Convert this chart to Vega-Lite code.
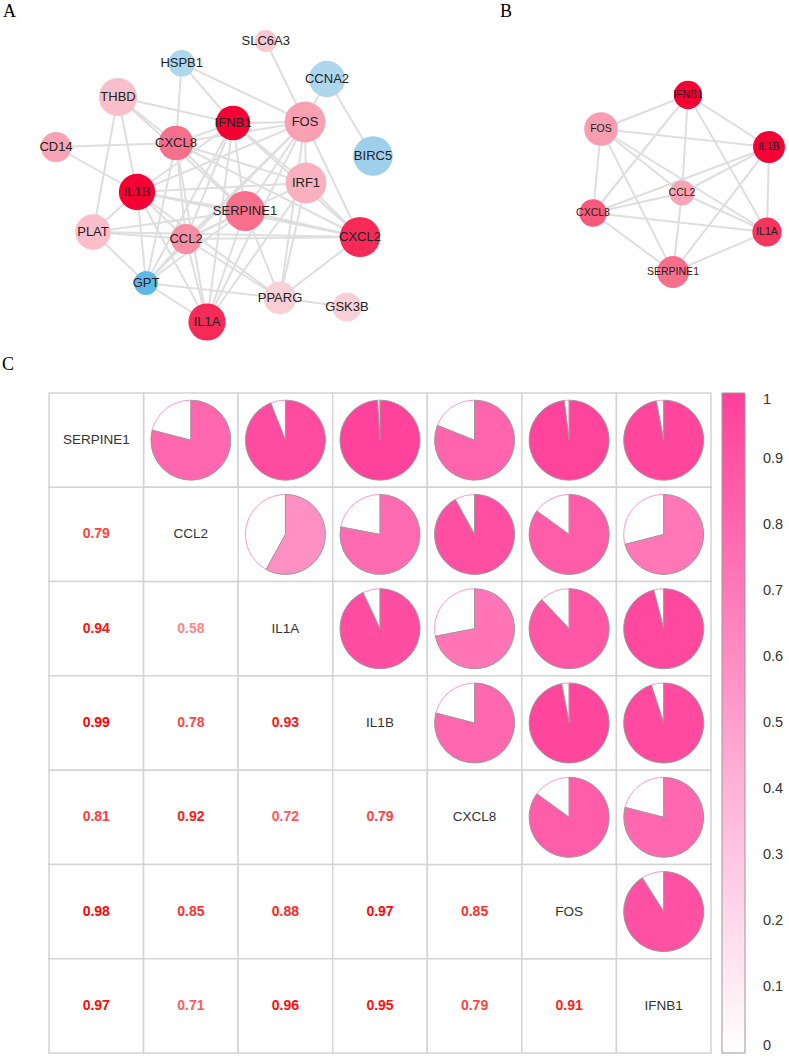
{
  "$schema": "https://vega.github.io/schema/vega-lite/v6.json",
  "padding": {"top": 3, "left": 0, "right": 0, "bottom": 0},
  "spacing": 0,
  "background": "white",
  "config": {"view": {"stroke": null}, "font": "Liberation Sans"},
  "resolve": {"scale": {"color": "independent", "fill": "independent", "size": "independent"}},
  "datasets": {
    "nodesA": [
      {"id": "SLC6A3", "x": 265.7, "y": 41, "w": 12.5, "fc": 1.2},
      {"id": "HSPB1", "x": 181.7, "y": 63.3, "w": 15, "fc": -1.1},
      {"id": "CCNA2", "x": 327, "y": 79, "w": 20.5, "fc": -1.1},
      {"id": "THBD", "x": 118, "y": 97, "w": 21.5, "fc": 1.38},
      {"id": "IFNB1", "x": 233, "y": 123, "w": 19.5, "fc": 5},
      {"id": "FOS", "x": 305, "y": 122, "w": 23, "fc": 1.96},
      {"id": "CD14", "x": 56, "y": 147, "w": 17, "fc": 1.9},
      {"id": "CXCL8", "x": 176, "y": 143, "w": 19.5, "fc": 2.9},
      {"id": "BIRC5", "x": 373, "y": 156, "w": 22.3, "fc": -1.4},
      {"id": "IRF1", "x": 306, "y": 183, "w": 23, "fc": 1.66},
      {"id": "IL1B", "x": 137, "y": 192, "w": 20.5, "fc": 5},
      {"id": "SERPINE1", "x": 245, "y": 211, "w": 22.5, "fc": 2.9},
      {"id": "PLAT", "x": 93, "y": 232, "w": 20, "fc": 1.38},
      {"id": "CCL2", "x": 186, "y": 239, "w": 17, "fc": 2.3},
      {"id": "CXCL2", "x": 360, "y": 237, "w": 22.7, "fc": 4.2},
      {"id": "GPT", "x": 146, "y": 283, "w": 13.5, "fc": -2.6},
      {"id": "PPARG", "x": 280, "y": 298, "w": 18.5, "fc": 1.05},
      {"id": "GSK3B", "x": 347, "y": 307, "w": 16.5, "fc": 1.05},
      {"id": "IL1A", "x": 207, "y": 322, "w": 21, "fc": 4.2}
    ],
    "edgesA": [
      {"s": "SLC6A3", "t": "FOS"}, {"s": "HSPB1", "t": "CXCL8"}, {"s": "HSPB1", "t": "FOS"}, {"s": "HSPB1", "t": "IFNB1"},
      {"s": "CCNA2", "t": "FOS"}, {"s": "CCNA2", "t": "BIRC5"}, {"s": "THBD", "t": "CXCL8"}, {"s": "THBD", "t": "IL1B"},
      {"s": "THBD", "t": "PLAT"}, {"s": "THBD", "t": "SERPINE1"}, {"s": "THBD", "t": "IFNB1"}, {"s": "CD14", "t": "CXCL8"},
      {"s": "CD14", "t": "IL1B"}, {"s": "IFNB1", "t": "FOS"}, {"s": "IFNB1", "t": "IRF1"}, {"s": "IFNB1", "t": "CXCL8"},
      {"s": "IFNB1", "t": "IL1B"}, {"s": "IFNB1", "t": "CCL2"}, {"s": "IFNB1", "t": "IL1A"}, {"s": "IFNB1", "t": "GPT"},
      {"s": "IFNB1", "t": "CXCL2"}, {"s": "IFNB1", "t": "SERPINE1"}, {"s": "FOS", "t": "IRF1"}, {"s": "FOS", "t": "CXCL2"},
      {"s": "FOS", "t": "IL1B"}, {"s": "FOS", "t": "CCL2"}, {"s": "FOS", "t": "IL1A"}, {"s": "FOS", "t": "GPT"},
      {"s": "FOS", "t": "PPARG"}, {"s": "FOS", "t": "SERPINE1"}, {"s": "FOS", "t": "CXCL8"}, {"s": "IRF1", "t": "IL1B"},
      {"s": "IRF1", "t": "CCL2"}, {"s": "IRF1", "t": "IL1A"}, {"s": "IRF1", "t": "PPARG"}, {"s": "IRF1", "t": "CXCL8"},
      {"s": "IL1B", "t": "SERPINE1"}, {"s": "IL1B", "t": "PLAT"}, {"s": "IL1B", "t": "CCL2"}, {"s": "IL1B", "t": "GPT"},
      {"s": "IL1B", "t": "IL1A"}, {"s": "IL1B", "t": "CXCL2"}, {"s": "IL1B", "t": "PPARG"}, {"s": "SERPINE1", "t": "PLAT"},
      {"s": "SERPINE1", "t": "CCL2"}, {"s": "SERPINE1", "t": "IL1A"}, {"s": "SERPINE1", "t": "PPARG"}, {"s": "SERPINE1", "t": "CXCL2"},
      {"s": "SERPINE1", "t": "GPT"}, {"s": "PLAT", "t": "CXCL2"}, {"s": "PLAT", "t": "GPT"}, {"s": "PLAT", "t": "CCL2"},
      {"s": "CCL2", "t": "GPT"}, {"s": "CCL2", "t": "IL1A"}, {"s": "CCL2", "t": "CXCL2"}, {"s": "CCL2", "t": "PPARG"},
      {"s": "CXCL2", "t": "IRF1"}, {"s": "CXCL2", "t": "PPARG"}, {"s": "GPT", "t": "PPARG"}, {"s": "GPT", "t": "IL1A"},
      {"s": "PPARG", "t": "GSK3B"}, {"s": "IL1A", "t": "CXCL8"}, {"s": "CXCL8", "t": "CCL2"}, {"s": "CXCL8", "t": "GPT"},
      {"s": "CXCL8", "t": "CXCL2"}, {"s": "CXCL8", "t": "SERPINE1"}
    ],
    "nodesB": [
      {"id": "IFNB1", "x": 688, "y": 95, "w": 16, "fc": 5},
      {"id": "FOS", "x": 601, "y": 129, "w": 19, "fc": 2.0},
      {"id": "IL1B", "x": 769, "y": 147, "w": 18, "fc": 5},
      {"id": "CCL2", "x": 682, "y": 193, "w": 14, "fc": 1.9},
      {"id": "CXCL8", "x": 593, "y": 213, "w": 15.5, "fc": 3.3},
      {"id": "IL1A", "x": 767, "y": 232, "w": 16.5, "fc": 4.0},
      {"id": "SERPINE1", "x": 673, "y": 272, "w": 18, "fc": 2.9}
    ],
    "edgesB": [
      {"s": "IFNB1", "t": "FOS"}, {"s": "IFNB1", "t": "IL1B"}, {"s": "IFNB1", "t": "CCL2"}, {"s": "IFNB1", "t": "CXCL8"},
      {"s": "IFNB1", "t": "IL1A"}, {"s": "FOS", "t": "IL1B"}, {"s": "FOS", "t": "CCL2"}, {"s": "FOS", "t": "CXCL8"},
      {"s": "FOS", "t": "SERPINE1"}, {"s": "FOS", "t": "IL1A"}, {"s": "IL1B", "t": "CCL2"}, {"s": "IL1B", "t": "CXCL8"},
      {"s": "IL1B", "t": "IL1A"}, {"s": "IL1B", "t": "SERPINE1"}, {"s": "CCL2", "t": "CXCL8"}, {"s": "CCL2", "t": "IL1A"},
      {"s": "CCL2", "t": "SERPINE1"}, {"s": "CXCL8", "t": "IL1A"}, {"s": "CXCL8", "t": "SERPINE1"}, {"s": "SERPINE1", "t": "IL1A"}
    ],
    "pairs": [
      {"a": "SERPINE1", "b": "CCL2", "r": 0.79},
      {"a": "SERPINE1", "b": "IL1A", "r": 0.94},
      {"a": "SERPINE1", "b": "IL1B", "r": 0.99},
      {"a": "SERPINE1", "b": "CXCL8", "r": 0.81},
      {"a": "SERPINE1", "b": "FOS", "r": 0.98},
      {"a": "SERPINE1", "b": "IFNB1", "r": 0.97},
      {"a": "CCL2", "b": "IL1A", "r": 0.58},
      {"a": "CCL2", "b": "IL1B", "r": 0.78},
      {"a": "CCL2", "b": "CXCL8", "r": 0.92},
      {"a": "CCL2", "b": "FOS", "r": 0.85},
      {"a": "CCL2", "b": "IFNB1", "r": 0.71},
      {"a": "IL1A", "b": "IL1B", "r": 0.93},
      {"a": "IL1A", "b": "CXCL8", "r": 0.72},
      {"a": "IL1A", "b": "FOS", "r": 0.88},
      {"a": "IL1A", "b": "IFNB1", "r": 0.96},
      {"a": "IL1B", "b": "CXCL8", "r": 0.79},
      {"a": "IL1B", "b": "FOS", "r": 0.97},
      {"a": "IL1B", "b": "IFNB1", "r": 0.95},
      {"a": "CXCL8", "b": "FOS", "r": 0.85},
      {"a": "CXCL8", "b": "IFNB1", "r": 0.79},
      {"a": "FOS", "b": "IFNB1", "r": 0.91}
    ],
    "genes": [
      {"g": "SERPINE1"}, {"g": "CCL2"}, {"g": "IL1A"}, {"g": "IL1B"}, {"g": "CXCL8"}, {"g": "FOS"}, {"g": "IFNB1"}
    ]
  },
  "vconcat": [
    {
      "spacing": 0,
      "hconcat": [
        {
          "title": {"text": "A", "anchor": "start", "frame": "group", "font": "Liberation Serif", "fontSize": 18, "fontWeight": "normal", "color": "#000", "offset": 4, "dx": -46},
          "width": 451,
          "height": 331,
          "layer": [
            {
              "data": {"name": "edgesA"},
              "transform": [
                {"lookup": "s", "from": {"data": {"name": "nodesA"}, "key": "id", "fields": ["x", "y"]}, "as": ["sx", "sy"]},
                {"lookup": "t", "from": {"data": {"name": "nodesA"}, "key": "id", "fields": ["x", "y"]}, "as": ["tx", "ty"]}
              ],
              "mark": {"type": "rule", "stroke": "#dedede", "strokeWidth": 2},
              "encoding": {
                "x": {"field": "sx", "type": "quantitative", "scale": {"domain": [49, 500], "nice": false, "zero": false}, "axis": null},
                "y": {"field": "sy", "type": "quantitative", "scale": {"domain": [25, 356], "nice": false, "zero": false, "reverse": true}, "axis": null},
                "x2": {"field": "tx"},
                "y2": {"field": "ty"}
              }
            },
            {
              "data": {"name": "nodesA"},
              "mark": {"type": "circle", "opacity": 1},
              "encoding": {
                "x": {"field": "x", "type": "quantitative", "axis": null},
                "y": {"field": "y", "type": "quantitative", "axis": null},
                "size": {"field": "w", "type": "quantitative", "scale": {"type": "pow", "exponent": 2, "domain": [0, 23], "range": [0, 1662]}, "legend": null},
                "color": {"field": "fc", "type": "quantitative", "scale": {"domain": [-3, -1, 1, 5], "range": ["#4aaee0", "#b3d9ef", "#fad3da", "#f50035"], "interpolate": "rgb"}, "legend": null}
              }
            },
            {
              "data": {"name": "nodesA"},
              "mark": {"type": "text", "fontSize": 13, "font": "Liberation Sans", "color": "#222222"},
              "encoding": {
                "x": {"field": "x", "type": "quantitative", "axis": null},
                "y": {"field": "y", "type": "quantitative", "axis": null},
                "text": {"field": "id"}
              }
            }
          ]
        },
        {
          "title": {"text": "B", "anchor": "start", "frame": "group", "font": "Liberation Serif", "fontSize": 18, "fontWeight": "normal", "color": "#000", "offset": 4, "dx": 0},
          "width": 289,
          "height": 331,
          "layer": [
            {
              "data": {"name": "edgesB"},
              "transform": [
                {"lookup": "s", "from": {"data": {"name": "nodesB"}, "key": "id", "fields": ["x", "y"]}, "as": ["sx", "sy"]},
                {"lookup": "t", "from": {"data": {"name": "nodesB"}, "key": "id", "fields": ["x", "y"]}, "as": ["tx", "ty"]}
              ],
              "mark": {"type": "rule", "stroke": "#dedede", "strokeWidth": 2},
              "encoding": {
                "x": {"field": "sx", "type": "quantitative", "scale": {"domain": [500, 789], "nice": false, "zero": false}, "axis": null},
                "y": {"field": "sy", "type": "quantitative", "scale": {"domain": [25, 356], "nice": false, "zero": false, "reverse": true}, "axis": null},
                "x2": {"field": "tx"},
                "y2": {"field": "ty"}
              }
            },
            {
              "data": {"name": "nodesB"},
              "mark": {"type": "circle", "opacity": 1},
              "encoding": {
                "x": {"field": "x", "type": "quantitative", "axis": null},
                "y": {"field": "y", "type": "quantitative", "axis": null},
                "size": {"field": "w", "type": "quantitative", "scale": {"type": "pow", "exponent": 2, "domain": [0, 23], "range": [0, 1662]}, "legend": null},
                "color": {"field": "fc", "type": "quantitative", "scale": {"domain": [-3, -1, 1, 5], "range": ["#4aaee0", "#b3d9ef", "#fad3da", "#f50035"], "interpolate": "rgb"}, "legend": null}
              }
            },
            {
              "data": {"name": "nodesB"},
              "mark": {"type": "text", "fontSize": 10.5, "font": "Liberation Sans", "color": "#222222"},
              "encoding": {
                "x": {"field": "x", "type": "quantitative", "axis": null},
                "y": {"field": "y", "type": "quantitative", "axis": null},
                "text": {"field": "id"}
              }
            }
          ]
        }
      ]
    },
    {
      "title": {"text": "C", "anchor": "start", "frame": "bounds", "font": "Liberation Serif", "fontSize": 18, "fontWeight": "normal", "color": "#000", "offset": 18, "dx": 2},
      "width": 662,
      "height": 660,
      "layer": [
        {
          "data": {"name": "pairs"},
          "mark": {"type": "rect", "fill": "white", "stroke": "#d4d4d4", "strokeWidth": 1.5},
          "encoding": {
            "x": {"field": "b", "type": "nominal", "scale": {"domain": ["SERPINE1", "CCL2", "IL1A", "IL1B", "CXCL8", "FOS", "IFNB1"], "paddingInner": 0, "paddingOuter": 0}, "axis": null},
            "y": {"field": "a", "type": "nominal", "scale": {"domain": ["SERPINE1", "CCL2", "IL1A", "IL1B", "CXCL8", "FOS", "IFNB1"], "paddingInner": 0, "paddingOuter": 0}, "axis": {"labels": false, "ticks": false, "domain": false, "grid": false, "title": null, "minExtent": 49, "maxExtent": 49}}
          }
        },
        {
          "data": {"name": "pairs"},
          "mark": {"type": "rect", "fill": "white", "stroke": "#d4d4d4", "strokeWidth": 1.5},
          "encoding": {
            "x": {"field": "a", "type": "nominal", "axis": null},
            "y": {"field": "b", "type": "nominal", "axis": {"labels": false, "ticks": false, "domain": false, "grid": false, "title": null, "minExtent": 49, "maxExtent": 49}}
          }
        },
        {
          "data": {"name": "genes"},
          "mark": {"type": "rect", "fill": "white", "stroke": "#d4d4d4", "strokeWidth": 1.5},
          "encoding": {
            "x": {"field": "g", "type": "nominal", "axis": null},
            "y": {"field": "g", "type": "nominal", "axis": {"labels": false, "ticks": false, "domain": false, "grid": false, "title": null, "minExtent": 49, "maxExtent": 49}}
          }
        },
        {
          "data": {"name": "pairs"},
          "mark": {"type": "arc", "radius": 40, "fill": "white", "stroke": "#ff99cc", "strokeWidth": 1},
          "encoding": {
            "x": {"field": "b", "type": "nominal", "bandPosition": 0.5, "axis": null},
            "y": {"field": "a", "type": "nominal", "bandPosition": 0.5, "axis": {"labels": false, "ticks": false, "domain": false, "grid": false, "title": null, "minExtent": 49, "maxExtent": 49}},
            "theta": {"field": "r", "type": "quantitative", "stack": null, "scale": {"domain": [0, 1], "range": [0, 6.283185307179586]}},
            "theta2": {"datum": 1}
          }
        },
        {
          "data": {"name": "pairs"},
          "mark": {"type": "arc", "radius": 40, "stroke": "#9a9a9a", "strokeWidth": 1},
          "encoding": {
            "x": {"field": "b", "type": "nominal", "bandPosition": 0.5, "axis": null},
            "y": {"field": "a", "type": "nominal", "bandPosition": 0.5, "axis": {"labels": false, "ticks": false, "domain": false, "grid": false, "title": null, "minExtent": 49, "maxExtent": 49}},
            "theta": {"field": "r", "type": "quantitative", "stack": null},
            "theta2": {"datum": 0},
            "fill": {
              "field": "r", "type": "quantitative",
              "scale": {"domain": [0, 1], "range": ["#ffffff", "#ff409a"], "interpolate": "rgb"},
              "legend": {"orient": "right", "offset": 11, "direction": "vertical", "title": null, "gradientLength": 660, "gradientThickness": 23, "gradientStrokeColor": "#a09595", "gradientStrokeWidth": 1, "values": [0, 0.1, 0.2, 0.3, 0.4, 0.5, 0.6, 0.7, 0.8, 0.9, 1], "format": ".1~f", "labelFont": "Liberation Sans", "labelFontSize": 14.5, "labelColor": "#333333", "labelOffset": 18, "labelBaseline": "middle", "labelOverlap": false, "padding": 0}
            }
          }
        },
        {
          "data": {"name": "pairs"},
          "mark": {"type": "text", "fontSize": 14, "fontWeight": "bold", "font": "Liberation Sans"},
          "encoding": {
            "x": {"field": "a", "type": "nominal", "axis": null},
            "y": {"field": "b", "type": "nominal", "axis": {"labels": false, "ticks": false, "domain": false, "grid": false, "title": null, "minExtent": 49, "maxExtent": 49}},
            "text": {"field": "r", "type": "quantitative", "format": ".2f"},
            "color": {"field": "r", "type": "quantitative", "scale": {"domain": [0.5, 1], "range": ["#ffa0a0", "#ff0000"], "interpolate": "rgb"}, "legend": null}
          }
        },
        {
          "data": {"name": "genes"},
          "mark": {"type": "text", "fontSize": 13.5, "font": "Liberation Sans", "color": "#333333"},
          "encoding": {
            "x": {"field": "g", "type": "nominal", "axis": null},
            "y": {"field": "g", "type": "nominal", "axis": {"labels": false, "ticks": false, "domain": false, "grid": false, "title": null, "minExtent": 49, "maxExtent": 49}},
            "text": {"field": "g"}
          }
        }
      ]
    }
  ]
}
